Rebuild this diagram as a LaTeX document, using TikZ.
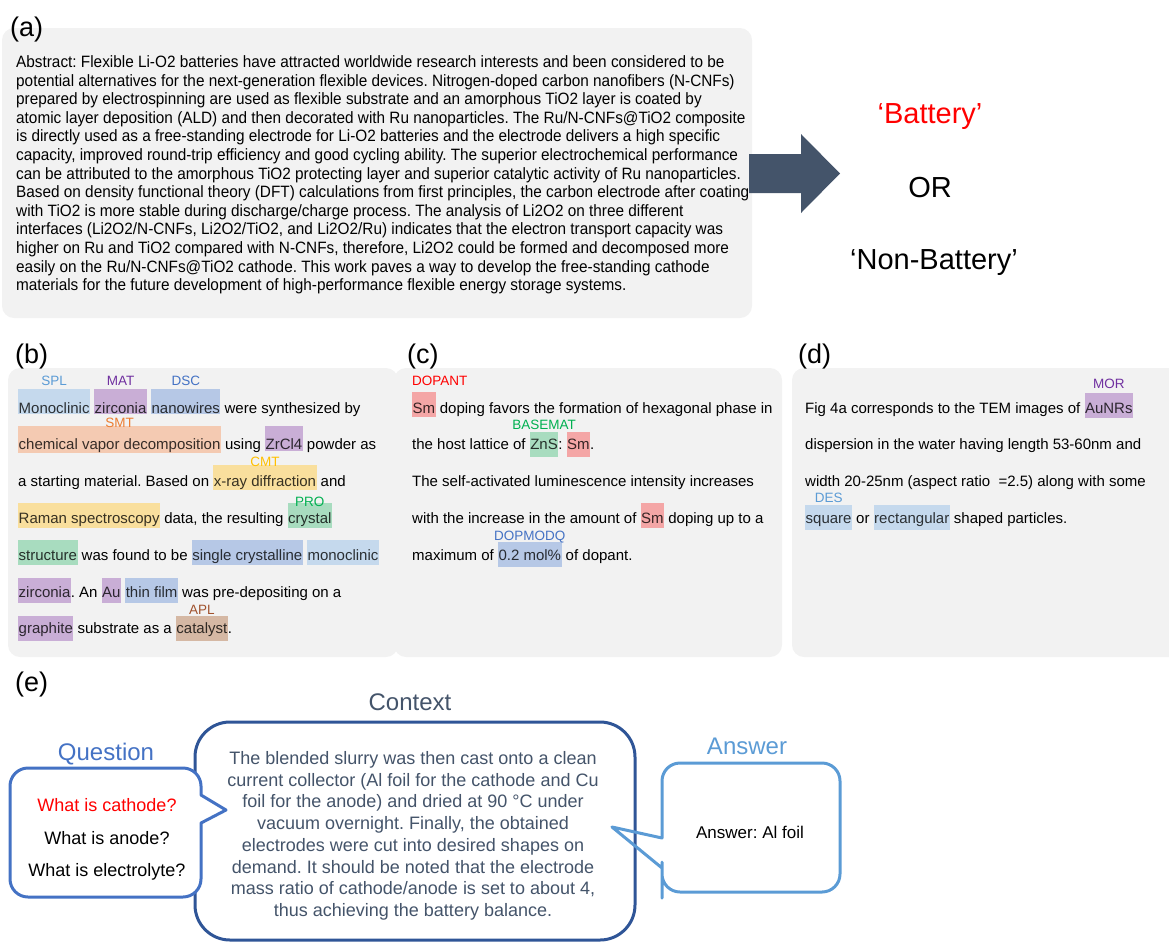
\documentclass[tikz,border=0pt]{standalone}
\usepackage{fontspec}
\setmainfont{Liberation Sans}
\newfontfamily\absfont{Liberation Sans}[FakeStretch=0.935]
\frenchspacing
\definecolor{panelbg}{HTML}{F2F2F2}
\definecolor{arrowc}{HTML}{44546A}
\definecolor{splbox}{HTML}{C5D9ED}
\definecolor{matbox}{HTML}{C9AED6}
\definecolor{dscbox}{HTML}{B6C8E6}
\definecolor{smtbox}{HTML}{F4CAB2}
\definecolor{cmtbox}{HTML}{F9DF9D}
\definecolor{probox}{HTML}{A8DCBF}
\definecolor{aplbox}{HTML}{D5B8A4}
\definecolor{dopbox}{HTML}{F4A6A6}
\definecolor{splc}{HTML}{5B9BD5}
\definecolor{matc}{HTML}{7030A0}
\definecolor{dscc}{HTML}{4472C4}
\definecolor{smtc}{HTML}{ED7D31}
\definecolor{cmtc}{HTML}{FFC000}
\definecolor{proc}{HTML}{00B050}
\definecolor{aplc}{HTML}{A0522D}
\definecolor{dopc}{HTML}{FF0000}
\definecolor{qcol}{HTML}{4472C4}
\definecolor{ccol}{HTML}{2F5597}
\definecolor{acol}{HTML}{5B9BD5}
\definecolor{ctext}{HTML}{44546A}
\newsavebox\hlbox
\newcommand\bd{1.5pt}
\newcommand\tagfont{\fontsize{13.5}{14}\selectfont}
\newcommand\hb[2]{{\setlength\fboxsep{0pt}\colorbox{#1}{\rule[-\bd]{0pt}{25pt}\hspace{0.5pt}\textcolor{#1!22!black}{#2}\hspace{0.5pt}}}}
\newcommand\hl[5][21pt]{\leavevmode\sbox\hlbox{\hb{#2}{#5}}\usebox\hlbox\llap{\hbox to\wd\hlbox{\hss\raisebox{#1}{\tagfont\color{#3}#4}\hss}}\relax}
\newcommand\hlL[5][21pt]{\leavevmode\sbox\hlbox{\hb{#2}{#5}}\usebox\hlbox\llap{\hbox to\wd\hlbox{\raisebox{#1}{\tagfont\color{#3}#4}\hss}}\relax}
\begin{document}
\begin{tikzpicture}[x=1pt,y=-1pt,
  panel/.style={fill=panelbg, draw=none, rounded corners=12pt},
  lab/.style={anchor=base west, inner sep=0pt, font=\fontsize{27}{30}\selectfont},
  abs/.style={anchor=base west, inner sep=0pt, font=\absfont\fontsize{16.4}{18}\selectfont},
  txt/.style={anchor=base west, inner sep=0pt, font=\fontsize{15}{18}\selectfont},
  big/.style={anchor=base, inner sep=0pt, font=\fontsize{29}{32}\selectfont},
  ctx/.style={anchor=base, inner sep=0pt, text=ctext, font=\fontsize{18}{21}\selectfont},
  qtx/.style={anchor=base, inner sep=0pt, font=\fontsize{18}{21}\selectfont},
  head/.style={anchor=base, inner sep=0pt, font=\fontsize{24}{27}\selectfont},
  bubble/.style={line width=3pt, line join=round}]
\useasboundingbox (0,0) rectangle (1169,943);
\clip (0,0) rectangle (1169,943);
% ---------- panel backgrounds
\fill[panel] (2,28) rectangle (752,318);
\fill[panel] (8,368) rectangle (398,657);
\fill[panel] (394,368) rectangle (782,657);
\fill[panel] (792,368) rectangle (1190,657);
% ---------- (a)
\node[lab] (la) at (10,36) {(a)};
\node[abs] (a1) at (16,67.5) {Abstract: Flexible Li-O2 batteries have attracted worldwide research interests and been considered to be};
\node[abs] (a2) at (16,86.1) {potential alternatives for the next-generation flexible devices. Nitrogen-doped carbon nanofibers (N-CNFs)};
\node[abs] (a3) at (16,104.7) {prepared by electrospinning are used as flexible substrate and an amorphous TiO2 layer is coated by};
\node[abs] (a4) at (16,123.3) {atomic layer deposition (ALD) and then decorated with Ru nanoparticles. The Ru/N-CNFs@TiO2 composite};
\node[abs] (a5) at (16,141.9) {is directly used as a free-standing electrode for Li-O2 batteries and the electrode delivers a high specific};
\node[abs] (a6) at (16,160.5) {capacity, improved round-trip efficiency and good cycling ability. The superior electrochemical performance};
\node[abs] (a7) at (16,179.1) {can be attributed to the amorphous TiO2 protecting layer and superior catalytic activity of Ru nanoparticles.};
\node[abs] (a8) at (16,197.7) {Based on density functional theory (DFT) calculations from first principles, the carbon electrode after coating};
\node[abs] (a9) at (16,216.3) {with TiO2 is more stable during discharge/charge process. The analysis of Li2O2 on three different};
\node[abs] (a10) at (16,234.9) {interfaces (Li2O2/N-CNFs, Li2O2/TiO2, and Li2O2/Ru) indicates that the electron transport capacity was};
\node[abs] (a11) at (16,253.5) {higher on Ru and TiO2 compared with N-CNFs, therefore, Li2O2 could be formed and decomposed more};
\node[abs] (a12) at (16,272.1) {easily on the Ru/N-CNFs@TiO2 cathode. This work paves a way to develop the free-standing cathode};
\node[abs] (a13) at (16,290.7) {materials for the future development of high-performance flexible energy storage systems.};
\fill[arrowc] (749,154) -- (801,154) -- (801,134) -- (840,173.5) -- (801,213) -- (801,193) -- (749,193) -- cycle;
\node[big, text=dopc] (bat) at (930,123) {‘Battery’};
\node[big] (or) at (930,197) {OR};
\node[big] (nbat) at (934,269) {‘Non-Battery’};
% ---------- (b)
\node[lab] (lb) at (15,363) {(b)};
\node[txt] (b1) at (18,413) {\def\bd{1pt}\hl[28pt]{splbox}{splc}{SPL}{Monoclinic} \hl[28pt]{matbox}{matc}{MAT}{zirconia} \hl[28pt]{dscbox}{dscc}{DSC}{nanowires} were synthesized by};
\node[txt] (b2) at (18,449.8) {\def\bd{1.5pt}\hl[22.5pt]{smtbox}{smtc}{SMT}{chemical vapor decomposition} using \hb{matbox}{ZrCl4} powder as};
\node[txt] (b3) at (18,486.6) {\def\bd{3.4pt}a starting material. Based on \hl[20pt]{cmtbox}{cmtc}{CMT}{x-ray diffraction} and};
\node[txt] (b4) at (18,523.4) {\def\bd{5pt}\hb{cmtbox}{Raman spectroscopy} data, the resulting \hl[16.5pt]{probox}{proc}{PRO}{crystal}};
\node[txt] (b5) at (18,560.2) {\def\bd{5pt}\hb{probox}{structure} was found to be \hb{dscbox}{single crystalline} \hb{splbox}{monoclinic}};
\node[txt] (b6) at (18,597) {\def\bd{6pt}\hb{matbox}{zirconia}. An \hb{matbox}{Au} \hb{dscbox}{thin film} was pre-depositing on a};
\node[txt] (b7) at (18,633.8) {\def\bd{7pt}\hb{matbox}{graphite} substrate as a \hl[19pt]{aplbox}{aplc}{APL}{catalyst}.};
% ---------- (c)
\node[lab] (lc) at (407,363) {(c)};
\node[txt] (c1) at (412,413) {\def\bd{4pt}\hlL[28pt]{dopbox}{dopc}{DOPANT}{Sm} doping favors the formation of hexagonal phase in};
\node[txt] (c2) at (412,449.8) {\def\bd{7pt}the host lattice of \hl[20.5pt]{probox}{proc}{BASEMAT}{ZnS}: \hb{dopbox}{Sm}.};
\node[txt] (c3) at (412,486.6) {The self-activated luminescence intensity increases};
\node[txt] (c4) at (412,523.4) {\def\bd{4.6pt}with the increase in the amount of \hb{dopbox}{Sm} doping up to a};
\node[txt] (c5) at (412,560.2) {\def\bd{7pt}maximum of \hl[20pt]{dscbox}{dscc}{DOPMODQ}{0.2 mol\%} of dopant.};
% ---------- (d)
\node[lab] (ld) at (798,363) {(d)};
\node[txt] (d1) at (805,413) {\def\bd{5pt}Fig 4a corresponds to the TEM images of \hl[25pt]{matbox}{matc}{MOR}{AuNRs}};
\node[txt] (d2) at (805,449.8) {dispersion in the water having length 53-60nm and};
\node[txt] (d3) at (805,486.6) {width 20-25nm (aspect ratio \ =2.5) along with some};
\node[txt] (d4) at (805,523.4) {\def\bd{6.6pt}\hl[21pt]{splbox}{splc}{DES}{square} or \hb{splbox}{rectangular} shaped particles.};
% ---------- (e)
\node[lab] (le) at (15,691) {(e)};
\node[head, text=ctext] (hctx) at (410,710) {Context};
\node[head, text=qcol] (hq) at (106,760) {Question};
\node[head, text=acol] (ha) at (747,754) {Answer};
\draw[bubble, draw=ccol, fill=white, rounded corners=35pt] (195,722) rectangle (635,940);
\draw[bubble, draw=qcol, fill=white] (201,850) -- (201,823) -- (226,810) -- (201,795) -- (201,790) [rounded corners=18pt] -- (201,768) -- (10,768) -- (10,897) -- (201,897) -- cycle;
\draw[bubble, draw=acol] (662,880) -- (662,868) -- (612,827) -- (662,838) -- (662,830) [rounded corners=18pt] -- (662,763) -- (840,763) -- (840,892) -- (662,892) -- cycle;
\node[qtx, text=dopc] (q1) at (107,811.5) {What is cathode?};
\node[qtx] (q2) at (107,844.5) {What is anode?};
\node[qtx] (q3) at (107,876.5) {What is electrolyte?};
\node[ctx] (t1) at (413,764.5) {The blended slurry was then cast onto a clean};
\node[ctx] (t2) at (413,786.2) {current collector (Al foil for the cathode and Cu};
\node[ctx] (t3) at (413,807.9) {foil for the anode) and dried at 90 °C under};
\node[ctx] (t4) at (413,829.6) {vacuum overnight. Finally, the obtained};
\node[ctx] (t5) at (413,851.3) {electrodes were cut into desired shapes on};
\node[ctx] (t6) at (413,873) {demand. It should be noted that the electrode};
\node[ctx] (t7) at (413,894.7) {mass ratio of cathode/anode is set to about 4,};
\node[ctx] (t8) at (413,916.4) {thus achieving the battery balance.};
\node[qtx, font=\fontsize{17}{20}\selectfont] (ans) at (750,838) {Answer: Al foil};
\end{tikzpicture}
\end{document}
